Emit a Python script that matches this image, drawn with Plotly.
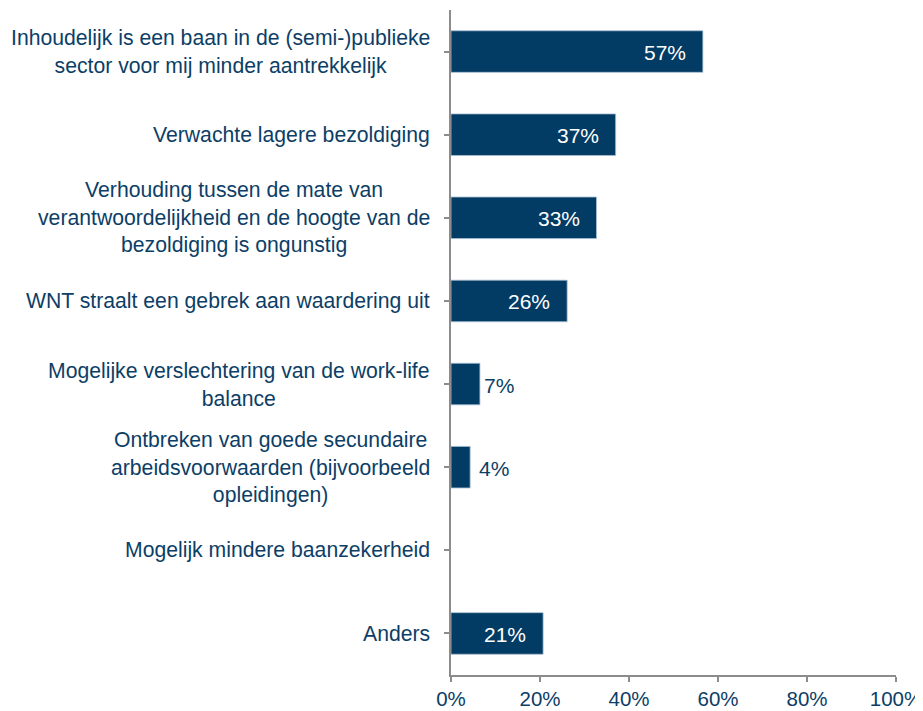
import plotly.graph_objects as go

categories = [
    "Inhoudelijk is een baan in de (semi-)publieke<br>sector voor mij minder aantrekkelijk",
    "Verwachte lagere bezoldiging",
    "Verhouding tussen de mate van<br>verantwoordelijkheid en de hoogte van de<br>bezoldiging is ongunstig",
    "WNT straalt een gebrek aan waardering uit",
    "Mogelijke verslechtering van de work-life<br>balance",
    "Ontbreken van goede secundaire<br>arbeidsvoorwaarden (bijvoorbeeld<br>opleidingen)",
    "Mogelijk mindere baanzekerheid",
    "Anders",
]
values = [56.6, 37.0, 32.7, 26.1, 6.5, 4.3, 0.0, 20.7]
value_labels = ["57%", "37%", "33%", "26%", "7%", "4%", "", "21%"]
x_ticks = [0, 20, 40, 60, 80, 100]
x_tick_labels = ["0%", "20%", "40%", "60%", "80%", "100%"]

BAR = "#023b63"
TEXT = "#0c3e66"
AXIS = "#8c8c8c"
FONT = "Liberation Sans, Arial, sans-serif"

ids = list(range(len(categories)))

fig = go.Figure(go.Bar(
    x=values, y=ids, orientation="h",
    marker=dict(color=BAR, line=dict(color="#a9bfd3",
                                     width=[0.8 if v > 0 else 0 for v in values])),
    width=0.5, hoverinfo="skip",
))

annotations = []
for i, (cat, v, lab) in enumerate(zip(categories, values, value_labels)):
    annotations.append(dict(
        x=0, xref="paper", y=i, yref="y", text=cat, showarrow=False,
        xanchor="right", yanchor="middle", xshift=-19, align="center",
        font=dict(family=FONT, size=21.2, color=TEXT),
    ))
    if lab:
        inside = v > 15
        annotations.append(dict(
            x=v, xref="x", y=i, yref="y", text=lab, showarrow=False,
            xanchor="right" if inside else "left", yanchor="middle",
            xshift=-15 if inside else (2 if v > 5 else 7),
            yshift=-1,
            font=dict(family=FONT, size=21, color="white" if inside else TEXT),
        ))

# the page body has an 8px default margin, so the figure is sized to fit the window
fig.update_layout(
    width=915, height=703,
    margin=dict(l=443, r=27, t=2, b=36),
    paper_bgcolor="white", plot_bgcolor="white",
    showlegend=False,
    annotations=annotations,
    xaxis=dict(
        range=[0, 100], tickvals=x_ticks, ticktext=x_tick_labels,
        showgrid=False, zeroline=False, showline=True, linecolor=AXIS, linewidth=1.5,
        ticks="outside", ticklen=5, tickcolor=AXIS, tickwidth=1.5,
        tickfont=dict(family=FONT, size=20.5, color=TEXT),
    ),
    yaxis=dict(
        range=[len(categories) - 0.5, -0.5], tickvals=ids, showticklabels=False,
        showgrid=False, zeroline=False, showline=True, linecolor=AXIS, linewidth=1.5,
        ticks="outside", ticklen=5, tickcolor=AXIS, tickwidth=1.5,
        tickson="boundaries",
    ),
)

fig.write_html("out.html")
